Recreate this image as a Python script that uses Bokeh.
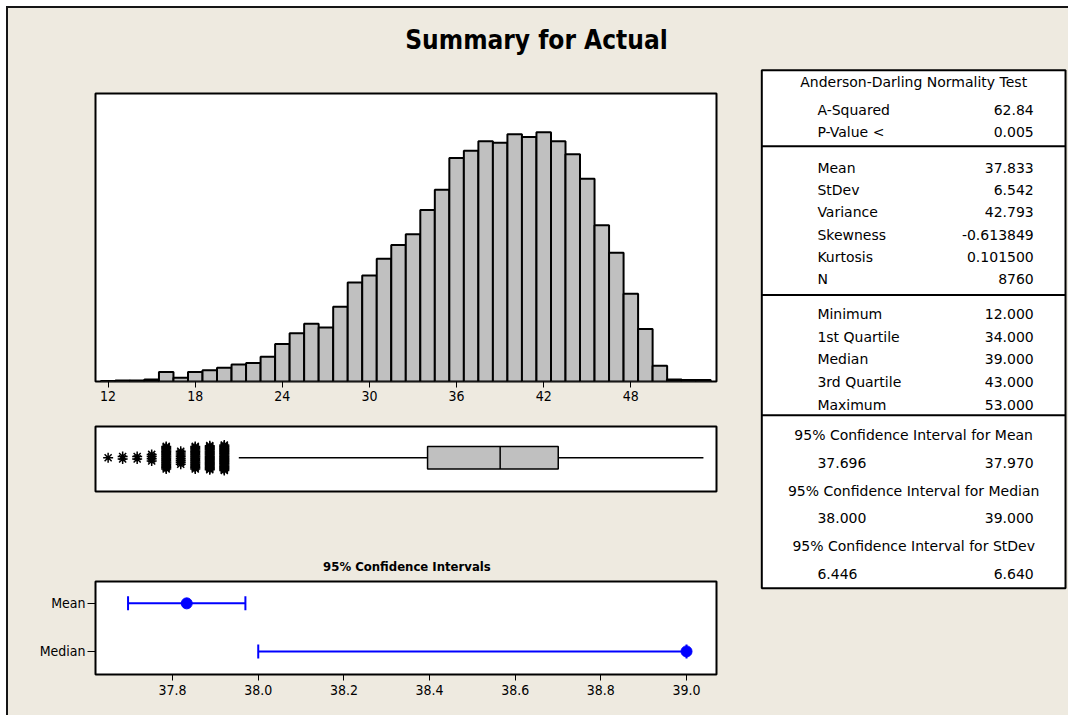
import math
from bokeh.plotting import figure
from bokeh.models import Range1d, FixedTicker, PrintfTickFormatter, Whisker, TeeHead, ColumnDataSource, Div
from bokeh.layouts import row, column
from bokeh.core.properties import value
from bokeh.embed import file_html
from bokeh.resources import INLINE

# ---------------- data ----------------
title_text = "Summary for Actual"
hist_values = list(range(12, 54))
hist_counts = [1, 2, 2, 4, 20, 8, 20, 24, 29,
               36, 39, 52, 79, 102, 122, 114, 158, 209, 224,
               259, 288, 311, 362, 405, 472, 487, 507, 504, 522,
               516, 526, 507, 480, 428, 330, 272, 185, 111, 33,
               4, 3, 3]
hist_ticks = [12, 18, 24, 30, 36, 42, 48]

q1, median, q3 = 34.0, 39.0, 43.0

ci_title = "95% Confidence Intervals"
ci_names = ["Mean", "Median"]
ci_points = [37.833, 39.0]
ci_lower = [37.696, 38.0]
ci_upper = [37.970, 39.0]
ci_ticks = [37.8, 38.0, 38.2, 38.4, 38.6, 38.8, 39.0]

ad_header = "Anderson-Darling Normality Test"
ad_labels = ["A-Squared", "P-Value <"]
ad_values = ["62.84", "0.005"]
desc_labels = ["Mean", "StDev", "Variance", "Skewness", "Kurtosis", "N"]
desc_values = ["37.833", "6.542", "42.793", "-0.613849", "0.101500", "8760"]
quart_labels = ["Minimum", "1st Quartile", "Median", "3rd Quartile", "Maximum"]
quart_values = ["12.000", "34.000", "39.000", "43.000", "53.000"]
ci_headers = ["95% Confidence Interval for Mean",
              "95% Confidence Interval for Median",
              "95% Confidence Interval for StDev"]
ci_lows_txt = ["37.696", "38.000", "6.446"]
ci_highs_txt = ["37.970", "39.000", "6.640"]

# ---------------- style / geometry ----------------
BEIGE = "#EEEAE0"
GRAY = "#C0C0C0"
DARK = "#151515"
AXFONT = "DejaVu Sans Condensed"
TFONT = "DejaVu Sans"
W, H = 1068, 715
SX, SY = W / 1076.0, H / 723.0
BG = {"background-color": BEIGE}


def cx(v):
    return v * SX


def cy(v):
    return v * SY


def blank(**kw):
    p = figure(output_backend="svg", toolbar_location=None, **kw)
    p.border_fill_color = BEIGE
    p.background_fill_color = BEIGE
    p.outline_line_color = None
    p.styles = BG
    for g in p.grid:
        g.visible = False
    return p


def framed(**kw):
    p = figure(output_backend="svg", toolbar_location=None, **kw)
    p.border_fill_color = BEIGE
    p.background_fill_color = "white"
    p.outline_line_color = "black"
    p.outline_line_width = 2
    p.styles = BG
    for g in p.grid:
        g.visible = False
    return p


def style_axis(ax, tick_out):
    ax.axis_line_color = None
    ax.major_tick_line_color = "black"
    ax.major_tick_line_width = 1
    ax.major_tick_out = tick_out
    ax.major_tick_in = 0
    ax.minor_tick_out = 0
    ax.minor_tick_in = 0
    ax.minor_tick_line_color = None
    ax.major_label_text_font = AXFONT
    ax.major_label_text_font_size = "14px"
    ax.major_label_text_color = "black"


LEFT_W, TABLE_X0 = 748, 756
ROW_TOP = 68
FL, FR = 87, 40  # borders around the plot frames in the left column
FRAME_X0, FRAME_X1 = 8 + FL, 8 + LEFT_W - FR

# ---------------- title ----------------
tf = blank(width=1060, height=60, x_range=Range1d(8, W), y_range=Range1d(ROW_TOP, 8),
           x_axis_type=None, y_axis_type=None, min_border=0)
tf.text(x=[cx(540)], y=[cy(40)], text=[title_text], text_align="center", text_baseline="middle",
        text_font=value(AXFONT), text_font_style="bold", text_font_size="26px", text_color="black")

# ---------------- histogram ----------------
hf = framed(width=LEFT_W, height=346, x_range=Range1d(11.13, 53.9), y_range=Range1d(0, 608),
            y_axis_type=None, min_border_left=FL, min_border_right=FR,
            min_border_top=25, min_border_bottom=33)
hf.vbar(x=hist_values, top=hist_counts, width=1.0, bottom=0,
        fill_color=GRAY, line_color="black", line_width=2)
hf.xaxis.ticker = FixedTicker(ticks=hist_ticks)
style_axis(hf.xaxis[0], 6)
hf.xaxis.major_label_standoff = 3

# ---------------- boxplot ----------------
iqr = q3 - q1
lo_fence = q1 - 1.5 * iqr
hi_fence = q3 + 1.5 * iqr
present = [v for v, c in zip(hist_values, hist_counts) if c > 0]
whisk_lo = min(v for v in present if v >= lo_fence)
whisk_hi = max(v for v in present if v <= hi_fence)
BOX_H = 11.5

bf = framed(width=LEFT_W, height=106, x_range=hf.x_range, y_range=Range1d(-34.3, 31.7),
            x_axis_type=None, y_axis_type=None, min_border_left=FL, min_border_right=FR,
            min_border_top=12, min_border_bottom=29)
bf.segment(x0=[whisk_lo, q3], y0=[0, 0], x1=[q1, whisk_hi], y1=[0, 0],
           line_color="black", line_width=1.5)
bf.quad(left=[q1], right=[q3], bottom=[-BOX_H], top=[BOX_H],
        fill_color=GRAY, line_color="black", line_width=1.5)
bf.segment(x0=[median], y0=[-BOX_H], x1=[median], y1=[BOX_H], line_color="black", line_width=1.5)

ox, oy = [], []
for v, c in zip(hist_values, hist_counts):
    if c > 0 and (v < lo_fence or v > hi_fence):
        spread = 14.0 * (1 - math.exp(-(c - 1) / 11.0))
        for k in range(c):
            ox.append(v)
            oy.append(0.0 if c == 1 else -spread + 2 * spread * k / (c - 1))
bf.scatter(x=ox, y=oy, marker="asterisk", size=10, line_color="black", line_width=1.5)

# ---------------- CI title (frame aligned with the plots of the column) ----------------
ctf = blank(width=LEFT_W, height=59, x_range=Range1d(FRAME_X0, FRAME_X1), y_range=Range1d(579, 520),
            x_axis_type=None, y_axis_type=None, min_border_left=FL, min_border_right=FR,
            min_border_top=0, min_border_bottom=0)
ctf.text(x=[cx(409.5)], y=[cy(572.7)], text=[ci_title], text_align="center", text_baseline="middle",
         text_font=value(AXFONT), text_font_style="bold", text_font_size="13px", text_color="black")

# ---------------- CI plot ----------------
ci_y = [len(ci_names) - i for i in range(len(ci_names))]
cf = framed(width=LEFT_W, height=136, x_range=Range1d(37.62, 39.07), y_range=Range1d(0.52, 2.455),
            min_border_left=FL, min_border_right=FR, min_border_top=2, min_border_bottom=41)
src = ColumnDataSource(dict(base=ci_y, lower=ci_lower, upper=ci_upper))
wh = Whisker(source=src, base="base", lower="lower", upper="upper", dimension="width",
             line_color="blue", line_width=2,
             upper_head=TeeHead(size=14, line_color="blue", line_width=2),
             lower_head=TeeHead(size=14, line_color="blue", line_width=2))
cf.add_layout(wh)
cf.scatter(x=ci_points, y=ci_y, size=11, fill_color="blue", line_color="blue")
cf.xaxis.ticker = FixedTicker(ticks=ci_ticks)
cf.xaxis.formatter = PrintfTickFormatter(format="%.1f")
cf.yaxis.ticker = FixedTicker(ticks=ci_y)
cf.yaxis.major_label_overrides = {y: n for y, n in zip(ci_y, ci_names)}
style_axis(cf.xaxis[0], 6)
style_axis(cf.yaxis[0], 8)
cf.xaxis.major_label_standoff = 4
cf.yaxis.major_label_standoff = 2

# ---------------- table ----------------
tb = blank(width=W - TABLE_X0, height=H - ROW_TOP, x_range=Range1d(TABLE_X0, W),
           y_range=Range1d(H, ROW_TOP), x_axis_type=None, y_axis_type=None, min_border=0)
TB_L, TB_R, TB_T, TB_B = cx(767), cx(1073), cy(70.5), cy(594.3)
tb.quad(left=[TB_L], right=[TB_R], top=[TB_T], bottom=[TB_B],
        fill_color="white", line_color="black", line_width=2)
seps = [cy(147.3), cy(297.7), cy(419.3)]
tb.segment(x0=[TB_L] * len(seps), x1=[TB_R] * len(seps), y0=seps, y1=seps,
           line_color="black", line_width=2)

LAB_X, VAL_X, CEN_X = cx(823), cx(1041), cx(920)
lab_txt, lab_y, val_txt, val_y = [], [], [], []
for i, (l, v) in enumerate(zip(ad_labels, ad_values)):
    y = cy(110.7 + 22.0 * i)
    lab_txt.append(l); lab_y.append(y); val_txt.append(v); val_y.append(y)
for i, (l, v) in enumerate(zip(desc_labels, desc_values)):
    y = cy(169.0 + 22.6 * i)
    lab_txt.append(l); lab_y.append(y); val_txt.append(v); val_y.append(y)
for i, (l, v) in enumerate(zip(quart_labels, quart_values)):
    y = cy(316.7 + 23.1 * i)
    lab_txt.append(l); lab_y.append(y); val_txt.append(v); val_y.append(y)
cen_txt, cen_y = [ad_header], [cy(82.7)]
for i, (hd, lo, hi) in enumerate(zip(ci_headers, ci_lows_txt, ci_highs_txt)):
    yh = 439.3 + 56.2 * i
    cen_txt.append(hd); cen_y.append(cy(yh))
    lab_txt.append(lo); lab_y.append(cy(yh + 28.1))
    val_txt.append(hi); val_y.append(cy(yh + 28.1))

common = dict(text_baseline="middle", text_font=value(TFONT), text_font_size="14px", text_color="black")
tb.text(x=[LAB_X] * len(lab_txt), y=lab_y, text=lab_txt, text_align="left", **common)
tb.text(x=[VAL_X] * len(val_txt), y=val_y, text=val_txt, text_align="right", **common)
tb.text(x=[CEN_X] * len(cen_txt), y=cen_y, text=cen_txt, text_align="center", **common)

# ---------------- layout ----------------
white_top = Div(width=W, height=6, margin=0, styles={"background-color": "white"})
white_left = Div(width=6, height=H - 6, margin=0, styles={"background-color": "white"})
black_top = Div(width=W - 6, height=2, margin=0, styles={"background-color": DARK})
black_left = Div(width=2, height=H - 8, margin=0, styles={"background-color": DARK})

left_col = column(hf, bf, ctf, cf, spacing=0, styles=BG)
mid = row(left_col, tb, spacing=0, styles=BG)
content = column(tf, mid, spacing=0, styles=BG)
inner = column(black_top, row(black_left, content, spacing=0), spacing=0)
page = column(white_top, row(white_left, inner, spacing=0), spacing=0)

with open("out.html", "w") as f:
    f.write(file_html(page, INLINE, title="Summary for Actual"))
